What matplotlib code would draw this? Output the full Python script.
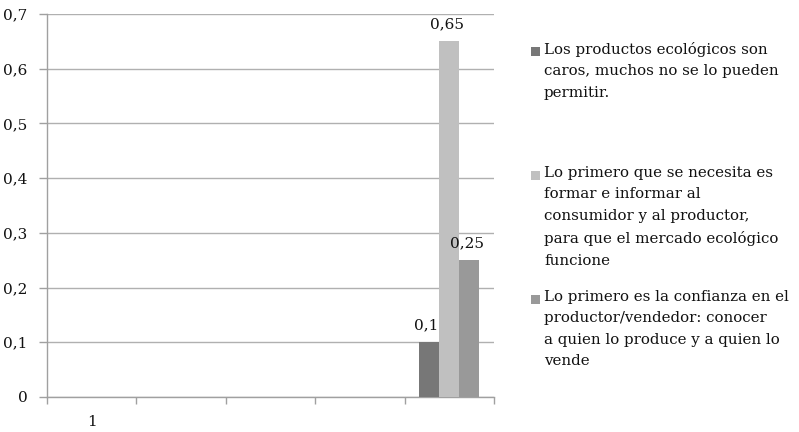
import matplotlib
matplotlib.use("Agg")
import matplotlib.pyplot as plt
from matplotlib.patches import Rectangle

categories = ["1", "", "", "", ""]
series_names = [
    "Los productos ecológicos son\ncaros, muchos no se lo pueden\npermitir.",
    "Lo primero que se necesita es\nformar e informar al\nconsumidor y al productor,\npara que el mercado ecológico\nfuncione",
    "Lo primero es la confianza en el\nproductor/vendedor: conocer\na quien lo produce y a quien lo\nvende",
]
values = [0.1, 0.65, 0.25]
value_labels = ["0,1", "0,65", "0,25"]
bar_category = 4
colors = ["#777777", "#c0c0c0", "#999999"]
yticks = [0, 0.1, 0.2, 0.3, 0.4, 0.5, 0.6, 0.7]
ytick_labels = ["0", "0,1", "0,2", "0,3", "0,4", "0,5", "0,6", "0,7"]

plt.rcParams['font.family'] = ['DejaVu Serif']
W, H = 799, 432
fs = 11
fig = plt.figure(figsize=(W/100, H/100), dpi=100)
ax = fig.add_axes([47/W, 1-397/H, (494-47)/W, (397-14)/H])

n = len(categories)
bw = 0.224
for i, (v, c, lab) in enumerate(zip(values, colors, value_labels)):
    x = bar_category + (i - 1) * bw
    ax.bar(x, v, width=bw, color=c, zorder=3)
    ax.annotate(lab, (x, v), xytext=(-2, 7), textcoords="offset points",
                ha="center", va="bottom", fontsize=fs, color="#111111")

ax.set_xlim(-0.5, n - 0.5)
ax.set_ylim(0, 0.7)
ax.set_yticks(yticks)
ax.set_yticklabels(ytick_labels, fontsize=fs, color="#111111")
ax.set_xticks(range(n))
ax.set_xticklabels(categories, fontsize=fs, color="#111111")
ax.set_xticks([k - 0.5 for k in range(n + 1)], minor=True)
ax.tick_params(axis="x", which="major", length=0, pad=13)
ax.tick_params(axis="x", which="minor", length=5, color="#a0a0a0", width=1)
ax.tick_params(axis="y", length=6, color="#a0a0a0", width=1, pad=8)
ax.grid(axis="y", color="#b0b0b0", linewidth=1, zorder=0)
for s in ["top", "right"]:
    ax.spines[s].set_visible(False)
for s in ["left", "bottom"]:
    ax.spines[s].set_color("#a0a0a0")
    ax.spines[s].set_linewidth(1)

legend_y = [51, 175, 299]
for name, c, y in zip(series_names, colors, legend_y):
    fig.patches.append(Rectangle((531/W, 1-(y+5)/H), 9/W, 9/H, transform=fig.transFigure,
                                 facecolor=c, edgecolor="none"))
    fig.text(544/W, 1-(y-9)/H, name, fontsize=10.8, va="top", ha="left",
             color="#111111", linespacing=1.68)

fig.savefig("out.png", dpi=100)
